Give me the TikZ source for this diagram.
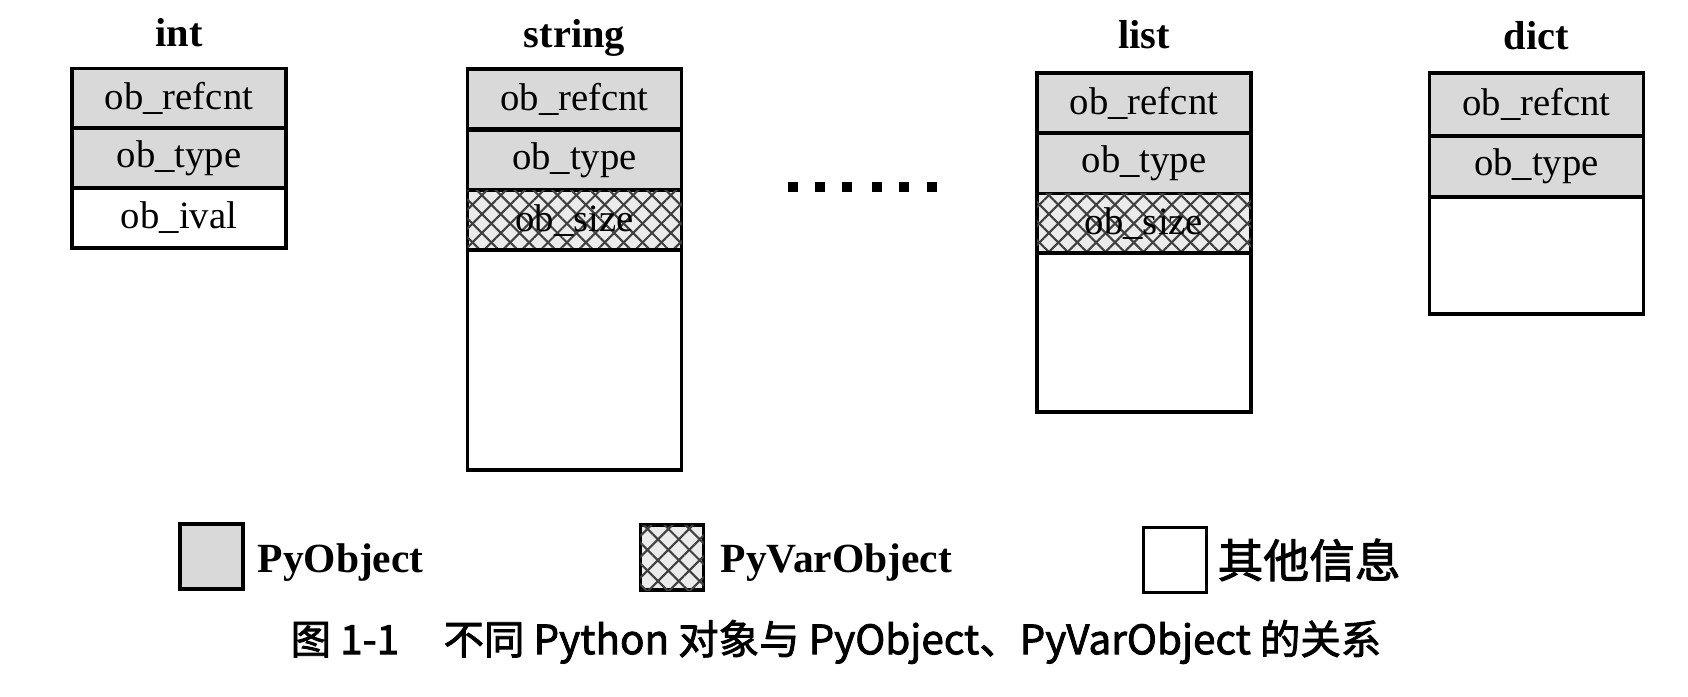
\documentclass[tikz,border=0pt]{standalone}
\usepackage{fontspec}
\setmainfont{Liberation Serif}
\newfontfamily\cjk[FakeBold=2]{Noto Sans CJK SC}
\usepackage{tikz}
\usetikzlibrary{patterns.meta}

\begin{document}
\begin{tikzpicture}[x=0.01cm,y=-0.01cm]
    \tikzstyle{field} = [draw,line width=1pt,minimum width=2.14cm,minimum height=0.6cm,inner sep=0pt,font=\fontsize{11}{13}\selectfont]
    \tikzstyle{pyobj} = [field,fill=black!15]
    \tikzstyle{varobj} = [field,fill=black!8,
        postaction={pattern={Lines[angle=45,distance=3.8pt,line width=.6pt]},pattern color=black!75},
        postaction={pattern={Lines[angle=-45,distance=3.8pt,line width=.6pt]},pattern color=black!75}]
    \tikzstyle{other} = [field,fill=white]
    \tikzstyle{title} = [anchor=base,font=\bfseries\fontsize{11.5}{13}\selectfont]
    \tikzstyle{key} = [draw,line width=1pt,minimum width=0.63cm,minimum height=0.65cm,inner sep=0pt]
    \tikzstyle{keytext} = [anchor=base west,inner sep=0pt,font=\bfseries\fontsize{11.8}{14}\selectfont]
    \useasboundingbox (0,0) rectangle (1688,696);
        % int
        \node[title] (inttitle) at (179,46) {int};
        \node[pyobj] (intref) at (179,98.5) {ob\_refcnt};
        \node[pyobj] (inttype) at (179,158) {ob\_type};
        \node[other] (intval) at (179,218) {ob\_ival};
        % string
        \node[title] (strtitle) at (574.5,47) {string};
        \node[pyobj] (strref) at (574.5,99) {ob\_refcnt};
        \node[pyobj] (strtype) at (574.5,160) {ob\_type};
        \node[varobj] (strsize) at (574.5,220.5) {ob\_size};
        \node[other,minimum height=2.2cm] (strrest) at (574.5,360) {};
        % dots
        \foreach \x in {793,820,847,877,904,932}
            \fill (\x-5,182) rectangle (\x+5,192);
        % list
        \node[title] (listtitle) at (1144,48) {list};
        \node[pyobj] (listref) at (1144,103) {ob\_refcnt};
        \node[pyobj] (listtype) at (1144,163.5) {ob\_type};
        \node[varobj] (listsize) at (1144,223.5) {ob\_size};
        \node[other,minimum height=1.59cm] (listrest) at (1144,332.5) {};
        % dict
        \node[title] (dicttitle) at (1536.5,49) {dict};
        \node[pyobj,minimum height=0.63cm] (dictref) at (1536.5,104.5) {ob\_refcnt};
        \node[pyobj,minimum height=0.61cm] (dicttype) at (1536.5,166.5) {ob\_type};
        \node[other,minimum height=1.17cm] (dictrest) at (1536.5,255.5) {};
        % legend
        \node[key,fill=black!15] (keyobj) at (211.5,556.5) {};
        \node[keytext] (keyobjtext) at (257,572) {PyObject};
        \node[key,fill=black!8,
            postaction={pattern={Lines[angle=45,distance=4.2pt,line width=.6pt]},pattern color=black!75},
            postaction={pattern={Lines[angle=-45,distance=4.2pt,line width=.6pt]},pattern color=black!75}] (keyvar) at (672,557.5) {};
        \node[keytext] (keyvartext) at (720,572) {PyVarObject};
        \node[key,fill=white] (keyother) at (1175,560) {};
        \node[anchor=west,inner sep=0pt,font=\cjk\fontsize{13}{15}\selectfont] (keyothertext) at (1217,560) {其他信息};
        % caption
        \node[anchor=west,inner sep=0pt,font=\cjk\fontsize{11.5}{13}\selectfont] (caption) at (290,642) {图 1-1\hspace{1.1em}不同 Python 对象与 PyObject、PyVarObject 的关系};
    \end{tikzpicture}
\end{document}
